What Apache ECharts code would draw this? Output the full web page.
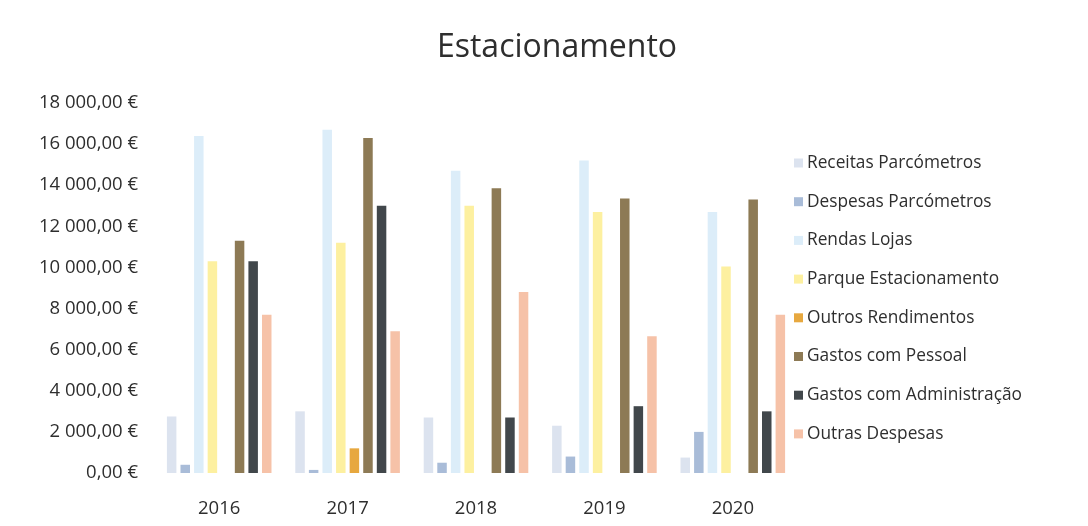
<!DOCTYPE html>
<html>
<head>
<meta charset="utf-8">
<script src="https://cdn.jsdelivr.net/npm/echarts@6/dist/echarts.min.js"></script>
<style>
html,body{margin:0;padding:0;background:#fff;}
#c{width:1088px;height:526px;}
</style>
</head>
<body>
<div id="c"></div>
<script>
const years = ['2016', '2017', '2018', '2019', '2020'];
const seriesNames = ['Receitas Parcómetros', 'Despesas Parcómetros', 'Rendas Lojas', 'Parque Estacionamento', 'Outros Rendimentos', 'Gastos com Pessoal', 'Gastos com Administração', 'Outras Despesas'];
const receitasParcometros = [2750, 3000, 2700, 2300, 750];
const despesasParcometros = [400, 150, 500, 800, 2000];
const rendasLojas = [16400, 16700, 14700, 15200, 12700];
const parqueEstacionamento = [10300, 11200, 13000, 12700, 10050];
const outrosRendimentos = [0, 1200, 0, 0, 0];
const gastosPessoal = [11300, 16300, 13850, 13350, 13300];
const gastosAdministracao = [10300, 13000, 2700, 3250, 3000];
const outrasDespesas = [7700, 6900, 8800, 6650, 7700];
const yTicks = [0, 2000, 4000, 6000, 8000, 10000, 12000, 14000, 16000, 18000];

const allData = [receitasParcometros, despesasParcometros, rendasLojas, parqueEstacionamento, outrosRendimentos, gastosPessoal, gastosAdministracao, outrasDespesas];
const colors = ['#dce3ef', '#a9bcd8', '#dcedf9', '#fdf0a0', '#e7a83f', '#8d7a55', '#41474b', '#f6c2a8'];
const textColor = '#2e2e2e';

function fmt(v) {
  const s = Math.round(v).toString().replace(/\B(?=(\d{3})+(?!\d))/g, ' ');
  return s + ',00 €';
}

const chart = echarts.init(document.getElementById('c'));
chart.setOption({
  backgroundColor: '#ffffff',
  color: colors,
  animation: false,
  title: {
    text: 'Estacionamento',
    left: 552,
    textAlign: 'center',
    top: 27,
    textStyle: { fontFamily: 'Open Sans', fontSize: 32, fontWeight: 'normal', color: textColor }
  },
  legend: {
    orient: 'vertical',
    left: 789,
    top: 149,
    itemWidth: 9,
    itemHeight: 9,
    itemGap: 20.7,
    icon: 'rect',
    textStyle: { fontFamily: 'Open Sans', fontSize: 17.3, lineHeight: 18, color: textColor, padding: [0, 0, 0, -1] },
    data: seriesNames
  },
  grid: { left: 155, right: 291, top: 103, bottom: 53 },
  xAxis: {
    type: 'category',
    data: years,
    axisLine: { show: false },
    axisTick: { show: false },
    axisLabel: { fontFamily: 'Open Sans', fontSize: 18.5, color: textColor, margin: 26 }
  },
  yAxis: {
    type: 'value',
    min: yTicks[0],
    max: yTicks[yTicks.length - 1],
    interval: 2000,
    splitLine: { show: false },
    axisLine: { show: false },
    axisTick: { show: false },
    axisLabel: { fontFamily: 'Open Sans', fontSize: 18.5, color: textColor, margin: 17, formatter: fmt }
  },
  series: seriesNames.map((n, i) => ({
    name: n,
    type: 'bar',
    data: allData[i],
    barWidth: 9.5,
    barGap: '43%',
    itemStyle: { color: colors[i] }
  }))
});
</script>
</body>
</html>
